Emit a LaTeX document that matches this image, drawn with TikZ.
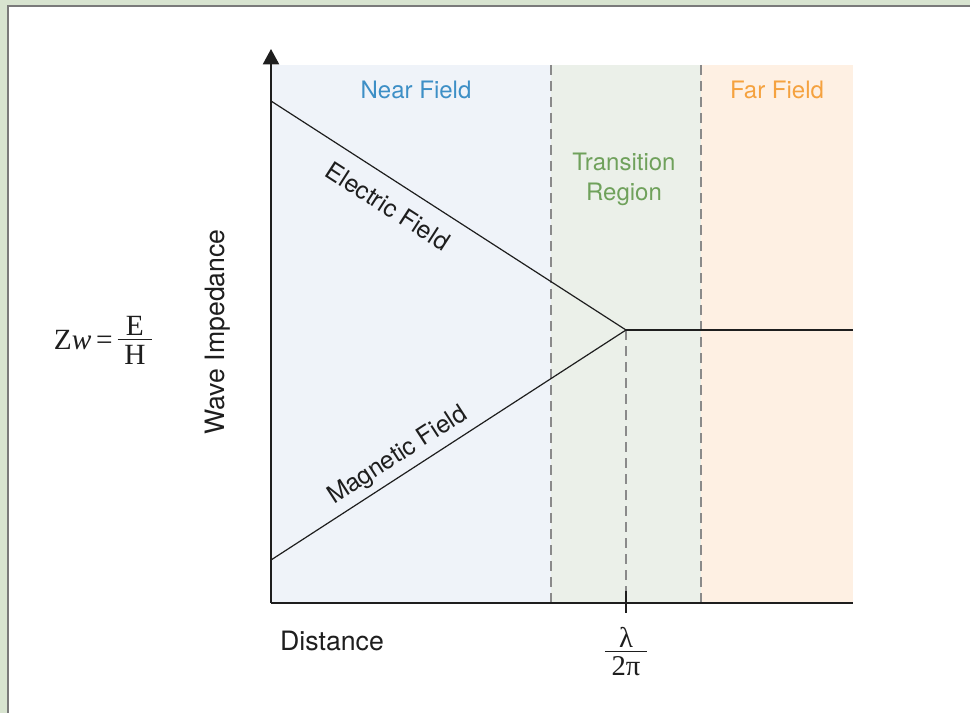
\documentclass[tikz,border=0pt]{standalone}
\usepackage{fontspec}
\setmainfont{TeX Gyre Heros}
\newfontfamily\tms{Liberation Serif}
\usetikzlibrary{arrows.meta}
\newcommand\fracstack[2]{{\setlength{\arrayrulewidth}{0.9pt}\begin{tabular}[c]{@{\hspace{5pt}}c@{\hspace{5pt}}}#1\\[-4.8pt]\hline #2\end{tabular}}}
\definecolor{bggreen}{HTML}{D8E4D0}
\definecolor{framegray}{HTML}{7A7A7A}
\definecolor{nearfill}{HTML}{EFF3F9}
\definecolor{transfill}{HTML}{EBF0E9}
\definecolor{farfill}{HTML}{FEF0E3}
\definecolor{neartext}{HTML}{3D8FC6}
\definecolor{transtext}{HTML}{6FA15B}
\definecolor{fartext}{HTML}{F5A23F}
\definecolor{dashgray}{HTML}{8A8A8A}
\definecolor{ink}{HTML}{1E1E1E}
\tikzset{
  regionlabel/.style={font=\fontsize{18}{22.5}\selectfont, align=center, inner sep=0pt},
  axislabel/.style={font=\fontsize{20}{24}\selectfont, text=ink, inner sep=0pt},
  fieldlabel/.style={font=\fontsize{18.5}{22}\selectfont, text=ink, inner sep=0pt},
  mathlabel/.style={font=\tms\fontsize{21.5}{25}\selectfont, text=ink, inner sep=0pt},
  zwlabel/.style={font=\tms\fontsize{22}{26}\selectfont, text=ink, inner sep=0pt},
  boundary/.style={draw=dashgray, line width=0.9pt, dash pattern=on 7.5pt off 4.5pt},
  fieldline/.style={draw=ink, line width=0.9pt},
  axisline/.style={draw=ink, line width=1.6pt}
}
\begin{document}
\begin{tikzpicture}[x=0.75pt,y=-0.75pt]
\useasboundingbox (0,0) rectangle (970,713);
\fill[bggreen] (0,0) rectangle (970,713);
\draw[fill=white, draw=framegray, line width=1.3pt] (8,6) rectangle (990,730);
% regions
\fill[nearfill] (271,65) rectangle (551,603);
\fill[transfill] (551,65) rectangle (701,603);
\fill[farfill] (701,65) rectangle (853,603);
% named points
\coordinate (O) at (271,603);
\coordinate (Ytop) at (271,49);
\coordinate (Xend) at (853,603);
\coordinate (E0) at (271,101);
\coordinate (M0) at (271,560);
\coordinate (P) at (626,330);
\coordinate (R) at (853,330);
\coordinate (B1t) at (551,65);
\coordinate (B1b) at (551,603);
\coordinate (B2t) at (701,65);
\coordinate (B2b) at (701,603);
\coordinate (Tk) at (626,591);
\coordinate (Tkb) at (626,613);
% boundaries
\draw[boundary] (B1t) -- (B1b);
\draw[boundary] (B2t) -- (B2b);
\draw[boundary] (P) -- (Tk);
% field lines
\draw[fieldline] (E0) -- (P);
\draw[fieldline] (M0) -- (P);
\draw[fieldline] (P) -- (R);
% axes
\draw[axisline] (O) -- (Xend);
\draw[axisline, -{Triangle[width=12pt,length=11.5pt]}] (O) -- (Ytop);
\draw[axisline] (Tk) -- (Tkb);
% labels
\node[regionlabel, text=neartext] (nf) at (416,90) {Near Field};
\node[regionlabel, text=fartext] (ff) at (777,90) {Far Field};
\node[regionlabel, text=transtext] (tr) at (624,179) {Transition\\Region};
\node[fieldlabel, rotate=-32.8] (ef) at (388,206) {Electric Field};
\node[fieldlabel, rotate=32.9] (mf) at (398,456) {Magnetic Field};
\node[axislabel, rotate=90] (wi) at (218,332) {Wave Impedance};
\node[axislabel] (dist) at (332,641) {Distance};
\node[mathlabel] (lam) at (626,655) {\fracstack{λ}{2π}};
\node[zwlabel] (zw) at (103,343) {Z\textit{w}\,=\,\fracstack{E}{H}};
\end{tikzpicture}
\end{document}
